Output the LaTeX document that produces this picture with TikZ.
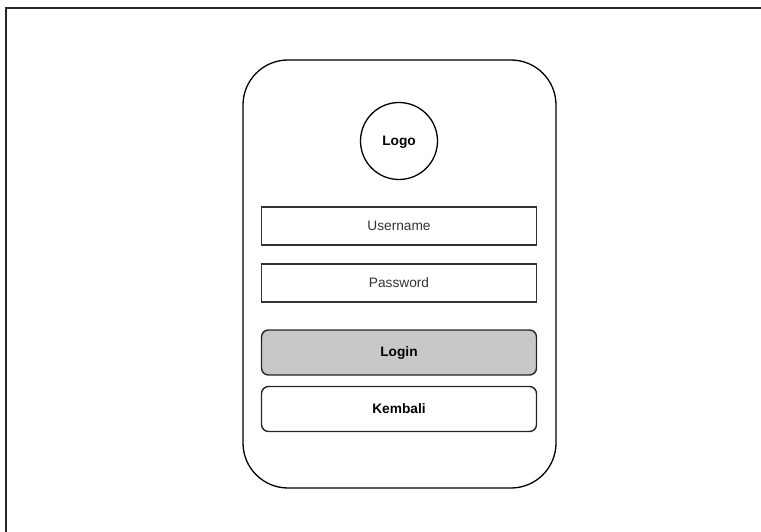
\documentclass[tikz,border=0pt]{standalone}
\usepackage{fontspec}
\setmainfont{Liberation Sans}
\begin{document}
\begin{tikzpicture}[x=1pt,y=-1pt,
  txt/.style={text height=8.6pt, text depth=0pt},
  field/.style={txt, draw=black!80, line width=1.6pt, rectangle, minimum width=275pt, minimum height=38pt, font=\fontsize{13.7}{16}\selectfont, text=black!80, inner sep=0pt},
  btn/.style={txt, draw=black!85, line width=1.4pt, rectangle, rounded corners=7pt, minimum width=275pt, minimum height=45pt, font=\fontsize{13.7}{16}\selectfont\bfseries, inner sep=0pt},
  frameline/.style={line width=1.8pt, draw=black!85}]
\useasboundingbox (0,0) rectangle (761,532);
\coordinate (fa) at (6,8);
\coordinate (fb) at (761,8);
\coordinate (fc) at (6,532);
\draw[frameline] (fc) -- (fa) -- (fb);
\node[draw=black, line width=1.3pt, rectangle, rounded corners=45pt, minimum width=313pt, minimum height=428pt, inner sep=0pt] (phone) at (399.5,274) {};
\node[txt, draw=black, line width=1.3pt, circle, minimum size=77pt, inner sep=0pt, font=\fontsize{13.7}{16}\selectfont\bfseries] (logo) at (399,141) {Logo};
\node[field] (user) at (399,226) {Username};
\node[field] (pass) at (399,283) {Password};
\node[btn, fill={rgb,255:red,202;green,199;blue,199}] (login) at (399,352.5) {Login};
\node[btn, fill=white] (back) at (399,409) {Kembali};
\end{tikzpicture}
\end{document}
